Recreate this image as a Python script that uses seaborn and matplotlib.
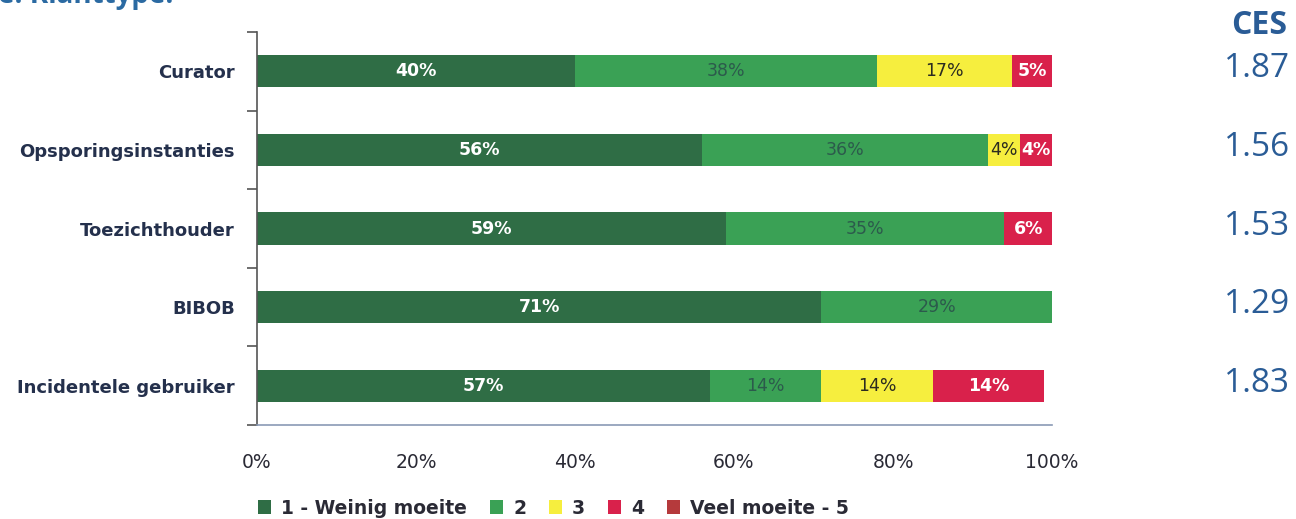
import matplotlib
matplotlib.use("Agg")
import matplotlib.pyplot as plt
import matplotlib.transforms as mtransforms
from matplotlib.patches import Patch
from matplotlib.ticker import FixedLocator, PercentFormatter
import numpy as np
import pandas as pd
import seaborn as sns

# Survey answers per client type (share of respondents, %)
categories = ["Curator", "Opsporingsinstanties", "Toezichthouder", "BIBOB",
              "Incidentele gebruiker"]
level_1 = [40, 56, 59, 71, 57]
level_2 = [38, 36, 35, 29, 14]
level_3 = [17, 4, 0, 0, 14]
level_4 = [5, 4, 6, 0, 14]
level_5 = [0, 0, 0, 0, 0]
ces_scores = ["1.87", "1.56", "1.53", "1.29", "1.83"]
level_names = ["1 - Weinig moeite", "2", "3", "4", "Veel moeite - 5"]
x_ticks = [0, 20, 40, 60, 80, 100]

levels = [level_1, level_2, level_3, level_4, level_5]
bar_colors = ["#2f6d45", "#3aa155", "#f6ee3e", "#d9214b", "#b53a3c"]
label_colors = ["white", "#2c5a4c", "#2b2b20", "white", "white"]
label_weights = ["bold", "normal", "normal", "bold", "bold"]

sns.set_theme(style="white")
plt.rcParams["font.family"] = ["DejaVu Sans"]

fig = plt.figure(figsize=(12.96, 5.19), dpi=100)
ax = fig.add_axes([257 / 1296, 1 - 425 / 519, 795 / 1296, 393 / 519])

df = pd.DataFrame({"category": categories})
cum = np.zeros(len(categories))
cum_levels = []
for vals in levels:
    cum = cum + np.array(vals, dtype=float)
    cum_levels.append(cum.copy())

# stacked bars: draw cumulative totals from the outermost level inwards
for i in reversed(range(len(levels))):
    df["value"] = cum_levels[i]
    sns.barplot(data=df, y="category", x="value", orient="h", color=bar_colors[i],
                saturation=1, width=0.41, ax=ax, linewidth=0, errorbar=None)

# segment labels
for i, vals in enumerate(levels):
    starts = cum_levels[i] - np.array(vals, dtype=float)
    for j, v in enumerate(vals):
        if v <= 0:
            continue
        ax.text(starts[j] + v / 2, j, f"{v}%", ha="center", va="center",
                fontsize=12.5, color=label_colors[i], fontweight=label_weights[i])

ax.set_xlim(0, 100)
ax.set_ylim(len(categories) - 0.5, -0.5)
ax.set_xlabel("")
ax.set_ylabel("")
ax.xaxis.set_major_locator(FixedLocator(x_ticks))
ax.xaxis.set_major_formatter(PercentFormatter(decimals=0))
ax.tick_params(axis="x", length=0, pad=20, labelsize=13.5, labelcolor="#2a2a35")
ax.tick_params(axis="y", which="major", length=0, pad=16, labelsize=13,
               labelcolor="#24304c")
for lbl in ax.get_yticklabels():
    lbl.set_fontweight("bold")
ax.yaxis.set_minor_locator(FixedLocator(np.arange(-0.5, len(categories), 1.0)))
ax.tick_params(axis="y", which="minor", left=True, length=7, width=1.2,
               color="#555555")

for side in ["top", "right"]:
    ax.spines[side].set_visible(False)
ax.spines["left"].set_color("#555555")
ax.spines["left"].set_linewidth(1.2)
ax.spines["bottom"].set_color("#8a9ab5")
ax.spines["bottom"].set_linewidth(1.2)

# CES column on the right
trans = mtransforms.blended_transform_factory(fig.transFigure, ax.transData)
fig.text(1287 / 1296, 1 - 25 / 519, "CES", ha="right", va="center",
         fontsize=23, fontweight="bold", color="#2a5c96", family="Open Sans")
for j, s in enumerate(ces_scores):
    ax.text(1290 / 1296, j - 0.03, s, transform=trans, ha="right", va="center",
            fontsize=24, color="#2a5c96", family="Open Sans")

# section heading, partly above the page edge
fig.text(-2 / 1296, 1 - 3 / 519, "e. Klanttype:", ha="left", va="baseline",
         fontsize=20, fontweight="bold", color="#2b6aa2", family="Open Sans")

handles = [Patch(facecolor=c, edgecolor="none") for c in bar_colors]
fig.legend(handles, level_names, loc="center left",
           bbox_to_anchor=(241 / 1296, 1 - 508 / 519), ncol=5, frameon=False,
           prop={"size": 13.5, "weight": "bold"}, handlelength=0.7,
           handleheight=0.7, handletextpad=0.55, columnspacing=1.2,
           labelcolor="#2a2a35")

fig.savefig("out.png", dpi=100)
